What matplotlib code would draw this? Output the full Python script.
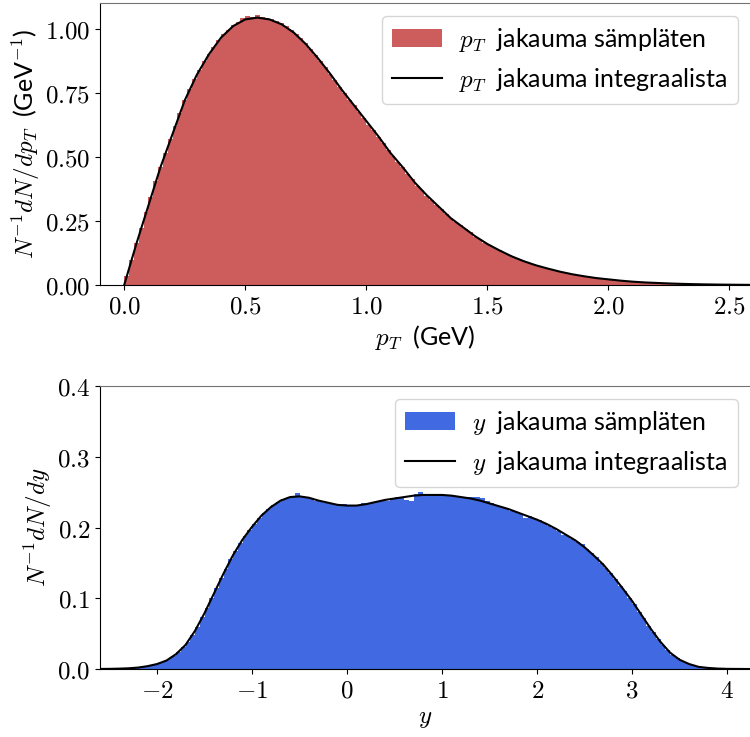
import numpy as np
import matplotlib
matplotlib.use("Agg")
import matplotlib.pyplot as plt
from matplotlib.ticker import FuncFormatter

plt.rcParams['mathtext.fontset'] = 'cm'
plt.rcParams['font.family'] = ['Lato', 'DejaVu Sans']

# --- pT distribution ---
pt_bin_start, pt_bin_width = 0.0, 0.02
pt_hist = [
    0.034, 0.098, 0.162, 0.224, 0.285, 0.343, 0.404, 0.462, 0.514, 0.568,
    0.619, 0.672, 0.722, 0.764, 0.803, 0.838, 0.872, 0.902, 0.930, 0.955,
    0.978, 0.996, 1.014, 1.026, 1.040, 1.048, 1.047, 1.055, 1.047, 1.043,
    1.036, 1.030, 1.021, 1.009, 0.994, 0.979, 0.962, 0.943, 0.921, 0.899,
    0.875, 0.851, 0.824, 0.800, 0.772, 0.749, 0.722, 0.701, 0.674, 0.653,
    0.626, 0.604, 0.578, 0.555, 0.527, 0.503, 0.480, 0.462, 0.434, 0.413,
    0.388, 0.371, 0.348, 0.333, 0.312, 0.297, 0.277, 0.261, 0.245, 0.233,
    0.217, 0.205, 0.189, 0.178, 0.165, 0.155, 0.144, 0.135, 0.125, 0.117,
    0.108, 0.100, 0.093, 0.087, 0.080, 0.074, 0.069, 0.064, 0.059, 0.054,
    0.050, 0.046, 0.042, 0.039, 0.036, 0.033, 0.030, 0.027, 0.025, 0.023,
    0.021, 0.019, 0.017, 0.015, 0.014, 0.0125, 0.011, 0.010, 0.009, 0.0085,
    0.0075, 0.0068, 0.006, 0.0054, 0.0048, 0.0043, 0.0038, 0.0033, 0.0029, 0.0026,
    0.0023, 0.0020, 0.0017, 0.0015, 0.0013,
]
pt_grid = np.round(np.arange(0, 2.61, 0.05), 2)
pt_curve = [
    0.000, 0.160, 0.310, 0.460, 0.590, 0.720, 0.820, 0.900, 0.965, 1.010,
    1.036, 1.043, 1.036, 1.017, 0.985, 0.940, 0.885, 0.825, 0.760, 0.700,
    0.640, 0.580, 0.515, 0.460, 0.400, 0.350, 0.305, 0.260, 0.225, 0.190,
    0.160, 0.135, 0.112, 0.093, 0.077, 0.064, 0.052, 0.042, 0.034, 0.027,
    0.022, 0.017, 0.013, 0.010, 0.008, 0.006, 0.0045, 0.0033, 0.0024, 0.0017,
    0.0012, 0.0008, 0.0005,
]

# --- rapidity distribution ---
y_bin_start, y_bin_width = -2.3, 0.05
y_hist = [
    0.0012, 0.0018, 0.0025, 0.0035, 0.0048, 0.0062, 0.0082, 0.0108, 0.0140, 0.0185,
    0.0240, 0.0305, 0.0385, 0.0485, 0.0600, 0.0730, 0.0860, 0.1000, 0.1140, 0.1280,
    0.1420, 0.1550, 0.1670, 0.1780, 0.1880, 0.1970, 0.2050, 0.2130, 0.2200, 0.2260,
    0.2320, 0.2360, 0.2400, 0.2420, 0.2435, 0.2490, 0.2445, 0.2430, 0.2400, 0.2380,
    0.2365, 0.2350, 0.2335, 0.2320, 0.2310, 0.2330, 0.2300, 0.2310, 0.2320, 0.2350,
    0.2330, 0.2360, 0.2370, 0.2395, 0.2380, 0.2410, 0.2430, 0.2410, 0.2390, 0.2380,
    0.2470, 0.2500, 0.2470, 0.2460, 0.2470, 0.2465, 0.2460, 0.2455, 0.2450, 0.2440,
    0.2435, 0.2425, 0.2435, 0.2430, 0.2420, 0.2370, 0.2350, 0.2320, 0.2290, 0.2270,
    0.2240, 0.2215, 0.2190, 0.2140, 0.2160, 0.2120, 0.2100, 0.2060, 0.2020, 0.1990,
    0.1950, 0.1900, 0.1880, 0.1840, 0.1790, 0.1760, 0.1690, 0.1640, 0.1580, 0.1500,
    0.1430, 0.1350, 0.1270, 0.1180, 0.1100, 0.1010, 0.0920, 0.0810, 0.0720, 0.0610,
    0.0520, 0.0420, 0.0340, 0.0270, 0.0200, 0.0150, 0.0110, 0.0080, 0.0055, 0.0038,
    0.0025, 0.0016,
]
y_grid = np.round(np.arange(-2.6, 4.31, 0.1), 2)
y_curve = [
    0.0001, 0.0002, 0.0005, 0.001, 0.002, 0.004, 0.007, 0.012, 0.021, 0.034,
    0.054, 0.079, 0.107, 0.135, 0.161, 0.183, 0.201, 0.217, 0.229, 0.238,
    0.243, 0.244, 0.242, 0.238, 0.235, 0.232, 0.231, 0.231, 0.233, 0.236,
    0.239, 0.241, 0.243, 0.245, 0.246, 0.246, 0.246, 0.245, 0.243, 0.241,
    0.238, 0.234, 0.230, 0.226, 0.221, 0.216, 0.211, 0.205, 0.198, 0.190,
    0.182, 0.172, 0.160, 0.147, 0.131, 0.114, 0.096, 0.076, 0.056, 0.038,
    0.023, 0.013, 0.007, 0.003, 0.0015, 0.0006, 0.0002, 0.0001, 0.0, 0.0,
]

fig = plt.figure(figsize=(7.5, 7.37), dpi=100)
ax1 = fig.add_axes([100 / 750, 452 / 737, 650 / 750, 282 / 737])
ax2 = fig.add_axes([100 / 750, 68 / 737, 650 / 750, 283 / 737])

tick_fs, label_fs, leg_fs = 18, 18, 18

# top: pT
pt_edges = pt_bin_start + pt_bin_width * np.arange(len(pt_hist) + 1)
ax1.stairs(pt_hist, pt_edges, fill=True, color='indianred',
           label=r'$p_T\;$ jakauma sämpläten')
ax1.plot(pt_grid, pt_curve, color='black', lw=1.5,
         label=r'$p_T\;$ jakauma integraalista')
ax1.set_xlim(-0.1, 2.585)
ax1.set_ylim(0, 1.1)
ax1.set_xticks([0.0, 0.5, 1.0, 1.5, 2.0, 2.5])
ax1.set_yticks([0.0, 0.25, 0.5, 0.75, 1.0])
ax1.xaxis.set_major_formatter(FuncFormatter(lambda v, _: f'${v:.1f}$'))
ax1.yaxis.set_major_formatter(FuncFormatter(lambda v, _: f'${v:.2f}$'))
ax1.set_xlabel(r'$p_T\;$ (GeV)', fontsize=label_fs)
ax1.set_ylabel(r'$N^{-1}dN/dp_T\;$ (GeV$^{-1}$)', fontsize=label_fs, labelpad=2)

# bottom: y
y_edges = y_bin_start + y_bin_width * np.arange(len(y_hist) + 1)
ax2.stairs(y_hist, y_edges, fill=True, color='royalblue',
           label=r'$y\;$ jakauma sämpläten')
ax2.plot(y_grid, y_curve, color='black', lw=1.5,
         label=r'$y\;$ jakauma integraalista')
ax2.set_xlim(-2.6, 4.24)
ax2.set_ylim(0, 0.4)
ax2.set_xticks([-2, -1, 0, 1, 2, 3, 4])
ax2.set_yticks([0.0, 0.1, 0.2, 0.3, 0.4])
ax2.xaxis.set_major_formatter(FuncFormatter(lambda v, _: f'${v:.0f}$'))
ax2.yaxis.set_major_formatter(FuncFormatter(lambda v, _: f'${v:.1f}$'))
ax2.set_xlabel(r'$y$', fontsize=label_fs)
ax2.set_ylabel(r'$N^{-1}dN/dy$', fontsize=label_fs, labelpad=2)

for ax in (ax1, ax2):
    ax.tick_params(labelsize=tick_fs)
    ax.spines['right'].set_visible(False)
    ax.spines['top'].set_color('0.45')
    ax.legend(loc='upper right', fontsize=leg_fs, handletextpad=0.7)

fig.savefig('out.png', dpi=100)
